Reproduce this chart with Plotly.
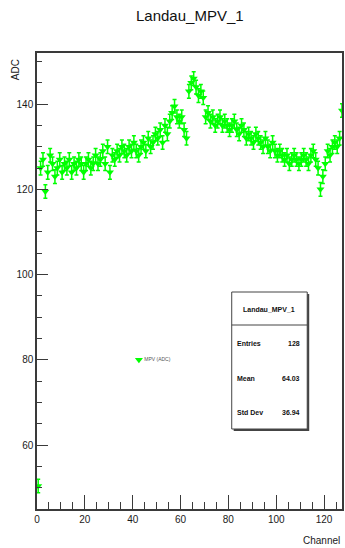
import plotly.graph_objects as go

# Landau MPV per readout channel (ADC counts)
channels = list(range(128))
mpv = [
    50.4,
    125, 127, 119.5, 124, 128, 126, 123, 125, 127, 124,
    126, 125, 127, 124, 126, 125, 127, 126, 124, 126,
    127, 125, 126, 128, 126, 127, 129, 126, 130, 124,
    128, 127, 129, 128, 130, 129, 128, 130, 129, 131,
    129, 128, 130, 131, 129, 132, 130, 131, 133, 132,
    134, 131, 135, 133, 136, 138, 139.5, 137, 136, 137,
    134, 132, 143, 145, 146, 144, 142, 143, 141.5, 137,
    138, 136, 137, 135, 136, 137, 135, 136, 135, 134,
    135, 136, 134, 133, 135, 134, 132, 133, 132, 131,
    133, 132, 131, 130, 132, 130, 129, 131, 129, 128,
    129, 128, 127, 128, 126, 127, 128, 127, 126, 127,
    128, 127, 126, 128, 129, 127, 125, 120, 123, 126,
    129, 128, 130, 131, 130, 132, 138.5,
]

# Statistics panel contents
stats_title = "Landau_MPV_1"
stats_labels = ["Entries", "Mean", "Std Dev"]
stats_values = ["128", "64.03", "36.94"]

# Marker key placed inside the frame
key_x = [42.6]
key_y = [80]
key_text = ["MPV (ADC)"]

GREEN = "#00ff00"
AXIS = "#3a3a3a"
TXT = "#1a1a1a"
FONT = "Liberation Sans, Arial, sans-serif"

W, H = 345, 548
L, R, T, B = 37, 1, 53, 39
pw, ph = W - L - R, H - T - B


def px(x):
    return (x - L) / pw


def py(y):
    return (H - B - y) / ph


fig = go.Figure()

fig.add_trace(go.Scatter(
    x=[c + 0.5 for c in channels], y=mpv,
    mode="markers",
    marker=dict(symbol="triangle-down", size=7, color=GREEN, line=dict(width=0)),
    error_y=dict(type="constant", value=1.6, color=GREEN, thickness=1.5, width=2),
    showlegend=False,
))

fig.add_trace(go.Scatter(
    x=key_x, y=key_y, text=key_text,
    mode="markers+text", textposition="middle right",
    textfont=dict(size=5, color="#555555", family=FONT),
    marker=dict(symbol="triangle-down", size=7, color=GREEN),
    showlegend=False, cliponaxis=False,
))

axis_common = dict(
    showgrid=False, zeroline=False,
    showline=True, linecolor=AXIS, linewidth=1.5, mirror=True,
    ticks="inside", tickcolor=AXIS, tickwidth=1.3,
    tickfont=dict(size=10, color=TXT, family=FONT),
)

fig.update_xaxes(
    range=[0, 127.5], dtick=20, tick0=0, ticklen=14,
    minor=dict(dtick=5, ticklen=7, ticks="inside", tickcolor=AXIS, tickwidth=1.3),
    **axis_common,
)
fig.update_yaxes(
    range=[45, 152], dtick=20, tick0=0, ticklen=11,
    minor=dict(dtick=5, ticklen=5, ticks="inside", tickcolor=AXIS, tickwidth=1.3),
    **axis_common,
)

shapes = [
    # shadow of the statistics panel
    dict(type="rect", xref="paper", yref="paper",
         x0=px(235), x1=px(311), y0=py(431), y1=py(294),
         fillcolor="#444444", line=dict(width=0)),
    dict(type="rect", xref="paper", yref="paper",
         x0=px(233), x1=px(309), y0=py(429), y1=py(292),
         fillcolor="white", line=dict(color="#444444", width=1)),
    dict(type="line", xref="paper", yref="paper",
         x0=px(233), x1=px(309), y0=py(325), y1=py(325),
         line=dict(color="#444444", width=1)),
]

bold7 = dict(size=7, color="#111111", family=FONT)

annotations = [
    dict(text="Landau_MPV_1", xref="paper", yref="paper",
         x=px(191), y=py(15), xanchor="center", yanchor="middle",
         showarrow=False, font=dict(size=15, color="#111111", family=FONT)),
    dict(text="ADC", xref="paper", yref="paper", textangle=-90,
         x=px(16), y=py(70), xanchor="center", yanchor="middle",
         showarrow=False, font=dict(size=10, color=TXT, family=FONT)),
    dict(text="Channel", xref="paper", yref="paper",
         x=px(344), y=py(540), xanchor="right", yanchor="middle",
         showarrow=False, font=dict(size=10, color=TXT, family=FONT)),
    dict(text="<b>" + stats_title + "</b>", xref="paper", yref="paper",
         x=px(271), y=py(309), xanchor="center", yanchor="middle",
         showarrow=False, font=bold7),
]

for lab, val, yy in zip(stats_labels, stats_values, [343, 378, 412]):
    annotations.append(dict(text="<b>" + lab + "</b>", xref="paper", yref="paper",
                            x=px(236), y=py(yy), xanchor="left", yanchor="middle",
                            showarrow=False, font=bold7))
    annotations.append(dict(text="<b>" + val + "</b>", xref="paper", yref="paper",
                            x=px(304), y=py(yy), xanchor="right", yanchor="middle",
                            showarrow=False, font=bold7))

fig.update_layout(
    width=W, height=H,
    margin=dict(l=L, r=R, t=T, b=B),
    paper_bgcolor="white", plot_bgcolor="white",
    shapes=shapes, annotations=annotations,
    showlegend=False,
)

fig.write_html("out.html")
